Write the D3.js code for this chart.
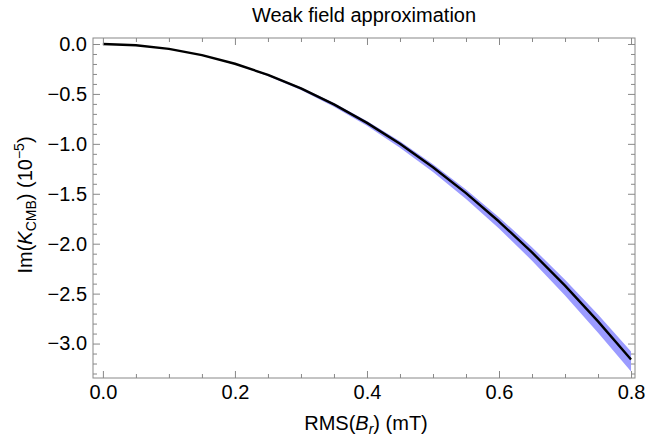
<!DOCTYPE html>
<html>
<head>
<meta charset="utf-8">
<script src="https://cdn.jsdelivr.net/npm/d3@7"></script>
<style>
    body { margin: 0; background: #fff; }
    text { font-family: "Liberation Sans", Arial, sans-serif; fill: #000; }
</style>
</head>
<body>
<div id="chart"></div>
<script>
// Data
const rms = [0, 0.05, 0.1, 0.15, 0.2, 0.25, 0.3, 0.35, 0.4, 0.45, 0.5, 0.55, 0.6, 0.65, 0.7, 0.75, 0.8];
const kIm = [0, -0.012, -0.049, -0.111, -0.198, -0.309, -0.445, -0.605, -0.79, -1.0, -1.235, -1.494, -1.778, -2.087, -2.42, -2.778, -3.16];
const kLow = [0, -0.013, -0.051, -0.115, -0.205, -0.32, -0.462, -0.628, -0.82, -1.038, -1.283, -1.552, -1.848, -2.17, -2.518, -2.892, -3.28];
const kHigh = [0, -0.012, -0.048, -0.108, -0.193, -0.301, -0.434, -0.59, -0.77, -0.975, -1.204, -1.457, -1.734, -2.035, -2.36, -2.709, -3.08];
const xMajor = [0, 0.2, 0.4, 0.6, 0.8];
const yMajor = [0, -0.5, -1, -1.5, -2, -2.5, -3];

// Size
const W = 645, H = 441;
const m = { top: 38, right: 10, bottom: 63, left: 93 };
const fs = 20;

const svg = d3.select("#chart")
    .append("svg")
    .attr("width", W)
    .attr("height", H);

const x = d3.scaleLinear().domain([-0.015, 0.806]).range([m.left, W - m.right]);
const y = d3.scaleLinear().domain([0.06, -3.345]).range([m.top, H - m.bottom]);

const fmt = (d) => d3.format(".1f")(d).replace("-", "\u2212");

// Band
const pts = rms.map((r, i) => ({ r: r, v: kIm[i], lo: kLow[i], hi: kHigh[i] }));
svg.append("path")
    .datum(pts)
    .attr("fill", "#9b9bff")
    .attr("d", d3.area().x((d) => x(d.r)).y0((d) => y(d.lo)).y1((d) => y(d.hi)));
// Line
svg.append("path")
    .datum(pts)
    .attr("fill", "none")
    .attr("stroke", "#000")
    .attr("stroke-width", 2.4)
    .attr("stroke-linejoin", "round")
    .attr("d", d3.line().x((d) => x(d.r)).y((d) => y(d.v)));

// Frame ticks
const xMinor = d3.range(0, 0.801, 0.05).filter((t) => !xMajor.some((mj) => Math.abs(mj - t) < 1e-6));
const yMinor = d3.range(0, -3.31, -0.1).filter((t) => !yMajor.some((mj) => Math.abs(mj - t) < 1e-6));
const tickColor = "#888";

function ticks(tr, gen, vals, size, labels) {
    const g = svg.append("g").attr("transform", tr).call(gen(vals, size));
    g.select(".domain").remove();
    g.selectAll("line").attr("stroke", tickColor);
    if (!labels) g.selectAll("text").remove();
    return g;
}
const axB = (v, s) => d3.axisBottom(x).tickValues(v).tickSizeInner(-s).tickSizeOuter(0).tickPadding(7).tickFormat(fmt);
const axT = (v, s) => d3.axisTop(x).tickValues(v).tickSizeInner(-s).tickSizeOuter(0);
const axL = (v, s) => d3.axisLeft(y).tickValues(v).tickSizeInner(-s).tickSizeOuter(0).tickPadding(6).tickFormat(fmt);
const axR = (v, s) => d3.axisRight(y).tickValues(v).tickSizeInner(-s).tickSizeOuter(0);

const xb = ticks(`translate(0,${H - m.bottom})`, axB, xMajor, 7, true);
ticks(`translate(0,${H - m.bottom})`, axB, xMinor, 4, false);
ticks(`translate(0,${m.top})`, axT, xMajor, 7, false);
ticks(`translate(0,${m.top})`, axT, xMinor, 4, false);
const yl = ticks(`translate(${m.left},0)`, axL, yMajor, 7, true);
ticks(`translate(${m.left},0)`, axL, yMinor, 4, false);
ticks(`translate(${W - m.right},0)`, axR, yMajor, 7, false);
ticks(`translate(${W - m.right},0)`, axR, yMinor, 4, false);
xb.selectAll("text").attr("font-size", fs).attr("font-family", "Liberation Sans, Arial, sans-serif");
yl.selectAll("text").attr("font-size", fs).attr("font-family", "Liberation Sans, Arial, sans-serif");

// Frame
svg.append("rect")
    .attr("x", m.left)
    .attr("y", m.top)
    .attr("width", W - m.right - m.left)
    .attr("height", H - m.bottom - m.top)
    .attr("fill", "none")
    .attr("stroke", tickColor)
    .attr("stroke-width", 1);

// Title
svg.append("text")
    .attr("x", (m.left + W - m.right) / 2)
    .attr("y", 22)
    .attr("text-anchor", "middle")
    .attr("font-size", fs)
    .text("Weak field approximation");

// X label
const xl = svg.append("text")
    .attr("x", 366)
    .attr("y", 430)
    .attr("text-anchor", "middle")
    .attr("font-size", fs);
xl.append("tspan").text("RMS(");
xl.append("tspan").attr("font-style", "italic").text("B");
xl.append("tspan").attr("font-style", "italic").attr("font-size", 14).attr("dy", 4).text("r");
xl.append("tspan").attr("dy", -4).text(") (mT)");

// Y label
const ylab = svg.append("text")
    .attr("transform", `translate(32,205) rotate(-90)`)
    .attr("text-anchor", "middle")
    .attr("font-size", fs);
ylab.append("tspan").text("Im(");
ylab.append("tspan").attr("font-style", "italic").text("K");
ylab.append("tspan").attr("font-size", 14).attr("dy", 4).text("CMB");
ylab.append("tspan").attr("dy", -4).text(") (10");
ylab.append("tspan").attr("font-size", 14).attr("dy", -8).text("\u22125");
ylab.append("tspan").attr("dy", 8).text(")");
</script>
</body>
</html>
